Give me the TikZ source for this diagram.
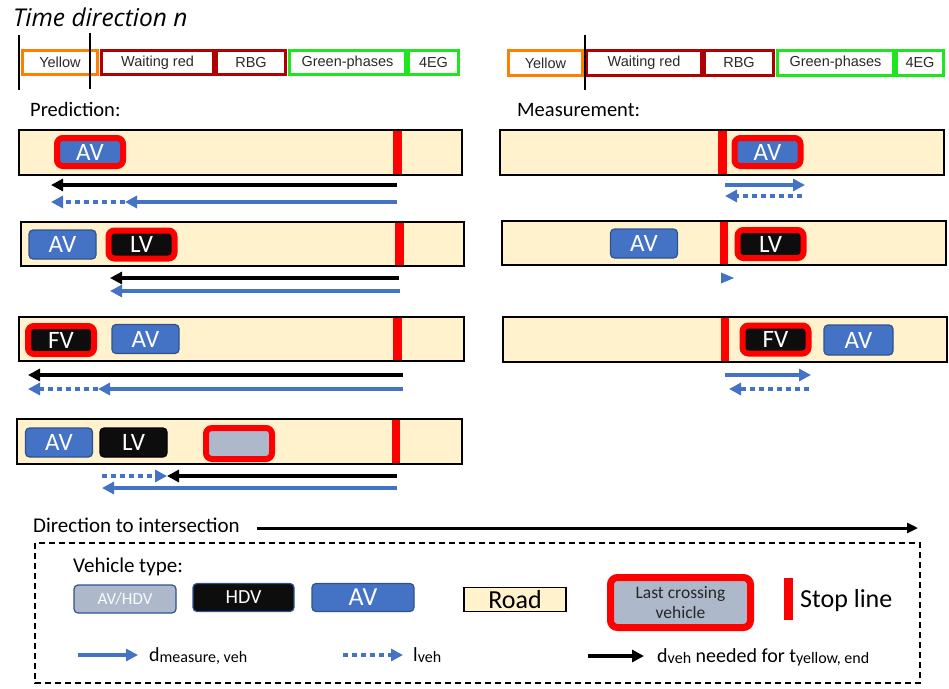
\documentclass[tikz,border=0pt]{standalone}
\usepackage{fontspec}
\setmainfont{Carlito}
\newfontfamily\arialf{Liberation Sans}
\newfontfamily\titlef{Open Sans}
\usetikzlibrary{arrows.meta}
\definecolor{roadc}{HTML}{FFF2CC}
\definecolor{avblue}{HTML}{4472C4}
\definecolor{avedge}{HTML}{2F528F}
\definecolor{greyv}{HTML}{ADB9CA}
\definecolor{stopred}{HTML}{FF0000}
\definecolor{orangec}{HTML}{FF8000}
\definecolor{darkredc}{HTML}{B00000}
\definecolor{greenc}{HTML}{1EE61E}
\definecolor{vblack}{HTML}{0D0D0D}
\definecolor{celltext}{HTML}{2A2A2A}
\tikzset{
  fs/.style={font=\fontsize{#1}{#1}\selectfont},
  cellbox/.style={fill=white, line width=3pt, minimum height=24pt, inner sep=0pt, text=celltext, font=\arialf\fontsize{14.5}{14.5}\selectfont},
  road/.style={draw=black, fill=roadc, line width=1.5pt},
  stopline/.style={fill=stopred, draw=none},
  veh/.style={rounded corners=4pt, minimum width=67pt, minimum height=29pt, inner sep=0pt, text=white, fs=25, line width=1.2pt},
  avv/.style={veh, fill=avblue, draw=avedge},
  hvv/.style={veh, fill=vblack, draw=black},
  lastv/.style={veh, draw=stopred, line width=6pt, minimum width=66pt, minimum height=28pt, rounded corners=6pt},
  meas/.style={line width=3.5pt, draw=avblue, -{Triangle[length=12pt,width=12pt]}},
  lenv/.style={meas, dash pattern=on 5pt off 4pt},
  need/.style={line width=3.5pt, draw=black, -{Triangle[length=12pt,width=12pt]}},
  tick/.style={line width=2.5pt, draw=black},
}
\begin{document}
\begin{tikzpicture}[x=1pt,y=-1pt]
\useasboundingbox (0,0) rectangle (949,688);
\fill[white] (0,0) rectangle (949,688);

% title
\node[anchor=base west, inner sep=0pt, font=\titlef\itshape\fontsize{24.5}{24.5}\selectfont] (title) at (13,26) {Time direction n};

% left phase bar
\node[cellbox, draw=orangec, minimum width=75pt] (ly) at (60,62.5) {Yellow};
\node[cellbox, draw=darkredc, minimum width=112pt] (lw) at (157.5,62.5) {Waiting red};
\node[cellbox, draw=darkredc, minimum width=69pt] (lr) at (251,62.5) {RBG};
\node[cellbox, draw=greenc, minimum width=116pt] (lg) at (347.5,62.5) {Green-phases};
\node[cellbox, draw=greenc, minimum width=50pt] (l4) at (433.5,62.5) {4EG};
\draw[tick] (19,35) -- (19,90);
\draw[tick] (90,33) -- (90,89);

% right phase bar
\node[cellbox, draw=orangec, minimum width=74pt, minimum height=25pt] (ry) at (545.5,63) {Yellow};
\node[cellbox, draw=darkredc, minimum width=115pt, minimum height=25pt] (rw) at (644,63) {Waiting red};
\node[cellbox, draw=darkredc, minimum width=69pt, minimum height=25pt] (rr) at (739,63) {RBG};
\node[cellbox, draw=greenc, minimum width=116pt, minimum height=25pt] (rg) at (835.5,63) {Green-phases};
\node[cellbox, draw=greenc, minimum width=47pt, minimum height=25pt] (r4) at (920,63) {4EG};
\draw[tick] (585,35) -- (585,90);

\node[anchor=base west, inner sep=0pt, fs=20.5] (pred) at (30,116) {Prediction:};
\node[anchor=base west, inner sep=0pt, fs=20.5] (meas) at (517,116) {Measurement:};

% ---------- left rows ----------
% row 1
\path[road] (19,130) rectangle (462,175);
\fill[stopline] (393,131) rectangle (402,174);
\node[lastv, fill=avblue] (p1av) at (90,152) {AV};
\coordinate (p1k1) at (397,185); \coordinate (p1k2) at (51,185);
\coordinate (p1b1) at (397,202); \coordinate (p1b2) at (125,202); \coordinate (p1b3) at (51,202);
\draw[need] (p1k1) -- (p1k2);
\draw[lenv] (p1b2) -- (p1b3);
\draw[meas] (p1b1) -- (p1b2);

% row 2
\path[road] (21,222) rectangle (464,266);
\fill[stopline] (395,223) rectangle (404,265);
\node[avv] (p2av) at (62.5,244.5) {AV};
\node[lastv, fill=vblack] (p2lv) at (141.5,244.5) {LV};
\coordinate (p2k1) at (399,278); \coordinate (p2k2) at (110,278);
\coordinate (p2b1) at (400,291); \coordinate (p2b2) at (110,291);
\draw[need] (p2k1) -- (p2k2);
\draw[meas] (p2b1) -- (p2b2);

% row 3
\path[road] (19,317) rectangle (464,361);
\fill[stopline] (393,318) rectangle (402,360);
\node[lastv, fill=vblack] (p3fv) at (61,340) {FV};
\node[avv] (p3av) at (145.5,339) {AV};
\coordinate (p3k1) at (403,375); \coordinate (p3k2) at (28,375);
\coordinate (p3b1) at (403,389); \coordinate (p3b2) at (98,389); \coordinate (p3b3) at (28,389);
\draw[need] (p3k1) -- (p3k2);
\draw[lenv] (p3b2) -- (p3b3);
\draw[meas] (p3b1) -- (p3b2);

% row 4
\path[road] (17,419) rectangle (462,464);
\fill[stopline] (392,420) rectangle (400,463);
\node[avv] (p4av) at (59,442.5) {AV};
\node[hvv] (p4lv) at (133.5,442.5) {LV};
\node[lastv, fill=greyv, minimum height=31pt] (p4gv) at (239,443.5) {};
\coordinate (p4k1) at (397,476); \coordinate (p4k2) at (167,476);
\coordinate (p4d1) at (102,476);
\coordinate (p4b1) at (397,488); \coordinate (p4b2) at (102,488);
\draw[need] (p4k1) -- (p4k2);
\draw[lenv] (p4d1) -- (p4k2);
\draw[meas] (p4b1) -- (p4b2);

% ---------- right rows ----------
% row 1
\path[road] (500,130) rectangle (944,175);
\fill[stopline] (718,131) rectangle (727,174);
\node[lastv, fill=avblue] (m1av) at (767.5,152) {AV};
\coordinate (m1b1) at (725,185); \coordinate (m1b2) at (805,185);
\coordinate (m1d1) at (802,196); \coordinate (m1d2) at (725,196);
\draw[meas] (m1b1) -- (m1b2);
\draw[lenv] (m1d1) -- (m1d2);

% row 2
\path[road] (502,221) rectangle (946,265);
\fill[stopline] (720,222) rectangle (728,264);
\node[avv] (m2av) at (644,243.5) {AV};
\node[lastv, fill=vblack] (m2lv) at (770.5,244) {LV};
\fill[avblue] (721,272.5) -- (734,278) -- (721,283.5) -- cycle;

% row 3
\path[road] (503,317) rectangle (947,362);
\fill[stopline] (721,318) rectangle (729,361);
\node[lastv, fill=vblack] (m3fv) at (775.5,339.5) {FV};
\node[avv, minimum width=69pt, minimum height=30pt] (m3av) at (858.5,340) {AV};
\coordinate (m3b1) at (725,375); \coordinate (m3b2) at (811,375);
\coordinate (m3d1) at (809,389); \coordinate (m3d2) at (729,389);
\draw[meas] (m3b1) -- (m3b2);
\draw[lenv] (m3d1) -- (m3d2);

% ---------- legend ----------
\node[anchor=base west, inner sep=0pt, fs=21] (dirtxt) at (33,532) {Direction to intersection};
\coordinate (dir1) at (257,528); \coordinate (dir2) at (918,528);
\draw[line width=3pt, -{Triangle[length=11pt,width=10pt]}] (dir1) -- (dir2);

\draw[line width=1.3pt, dash pattern=on 6pt off 4pt] (35,543) rectangle (920,683);

\node[anchor=base west, inner sep=0pt, fs=21] (vtype) at (73,572) {Vehicle type:};
\node[veh, fill=greyv, draw=avedge, minimum width=102pt, minimum height=28pt, fs=17, text=white!92!greyv] (lgav) at (125,599) {AV/HDV};
\node[veh, fill=vblack, draw=avedge, minimum width=101pt, minimum height=28pt, fs=20] (lghd) at (243.5,597.5) {HDV};
\node[veh, fill=avblue, draw=avedge, minimum width=102pt, minimum height=28pt, fs=26] (lgau) at (363,597.5) {AV};
\node[draw=black, fill=roadc, line width=1.5pt, minimum width=102pt, minimum height=24pt, inner sep=0pt, fs=26] (lgrd) at (515,599.5) {Road};
\node[draw=stopred, fill=greyv, line width=7pt, rounded corners=7pt, minimum width=140pt, minimum height=50pt, inner sep=0pt, align=center, text=black!85, font=\fontsize{17.5}{20}\selectfont] (lglast) at (680.5,602.5) {Last crossing\\vehicle};
\fill[stopline] (784,578) rectangle (793,620);
\node[anchor=base west, inner sep=0pt, fs=26] (lgstop) at (800,607) {Stop line};

\coordinate (lm1) at (78,655); \coordinate (lm2) at (138,655);
\draw[meas] (lm1) -- (lm2);
\node[anchor=base west, inner sep=0pt, fs=20] (lmt) at (149,661) {d\raisebox{-1pt}{\fontsize{16}{16}\selectfont measure, veh}};
\coordinate (ll1) at (343,655); \coordinate (ll2) at (403,655);
\draw[lenv] (ll1) -- (ll2);
\node[anchor=base west, inner sep=0pt, fs=20] (llt) at (413,661) {l\raisebox{-1pt}{\fontsize{16}{16}\selectfont veh}};
\coordinate (lk1) at (588,656); \coordinate (lk2) at (644,656);
\draw[need] (lk1) -- (lk2);
\node[anchor=base west, inner sep=0pt, fs=20] (lkt) at (657,662) {d\raisebox{-1pt}{\fontsize{16}{16}\selectfont veh} needed for t\raisebox{-1pt}{\fontsize{16}{16}\selectfont yellow, end}};
\end{tikzpicture}
\end{document}
